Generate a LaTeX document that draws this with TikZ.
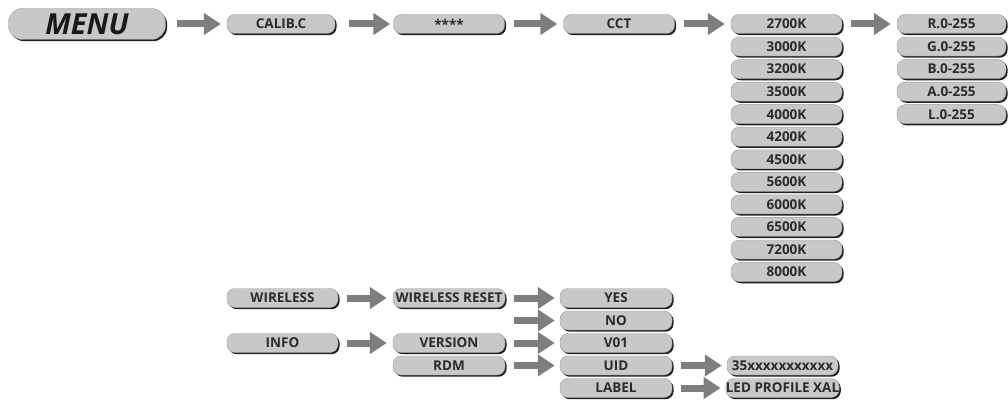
\documentclass[tikz,border=0pt]{standalone}
\usepackage{fontspec}
\setmainfont{Open Sans}
\usetikzlibrary{arrows.meta,shadows}
\definecolor{boxfill}{HTML}{C8C8C8}
\definecolor{boxedge}{HTML}{9A9A9A}
\definecolor{boxtext}{HTML}{2B2B2B}
\definecolor{arrowgray}{HTML}{7E7E7E}
\begin{document}
\begin{tikzpicture}[x=1pt,y=1pt,
  box/.style={rounded corners=8pt, fill=boxfill, draw=boxedge, line width=0.4pt,
    minimum height=19pt, minimum width=111pt, inner xsep=0pt, inner ysep=0pt,
    font=\fontsize{13.5}{13.5}\selectfont\bfseries, text=boxtext,
    general shadow={shadow xshift=1.6pt, shadow yshift=-1.7pt, fill=black!88}},
  bigbox/.style={box, rounded corners=14pt, minimum height=31pt, minimum width=157pt,
    font=\fontsize{29}{29}\selectfont\bfseries\itshape, text=black!90},
  conn/.style={draw=arrowgray, line width=7pt, -{Triangle[length=17pt,width=21pt]},
    shorten <=9pt, shorten >=6pt}]
\useasboundingbox (0,0) rectangle (1008,-403);
% top row
\node[bigbox] (menu) at (87,-24) {MENU};
\node[box, minimum width=108pt] (calib) at (281,-24) {CALIB.C};
\node[box] (pw) at (449,-24) {****};
\node[box] (cct) at (619,-24) {CCT};
% CCT column
\foreach \t [count=\i from 0] in {2700K,3000K,3200K,3500K,4000K,4200K,4500K,5600K,6000K,6500K,7200K,8000K}
  \node[box] (k\i) at (786.5,-24-22.55*\i) {\t};
% RGBAL column
\foreach \t [count=\i from 0] in {R.0-255,G.0-255,B.0-255,A.0-255,L.0-255}
  \node[box, minimum width=109pt] (c\i) at (951.5,-24-22.55*\i) {\t};
% bottom part
\node[box] (wireless) at (282.5,-298) {WIRELESS};
\node[box, minimum width=112pt] (wreset) at (449,-298) {WIRELESS RESET};
\node[box] (info) at (282.5,-343) {INFO};
\node[box, minimum width=112pt] (version) at (449,-343) {VERSION};
\node[box, minimum width=112pt] (rdm) at (449,-365.5) {RDM};
\node[box, minimum width=112pt] (yes) at (616,-298) {YES};
\node[box, minimum width=112pt] (no) at (616,-320.5) {NO};
\node[box, minimum width=112pt] (v01) at (616,-343) {V01};
\node[box, minimum width=112pt] (uid) at (616,-365.5) {UID};
\node[box, minimum width=112pt] (label) at (616,-388) {LABEL};
\node[box] (uidval) at (782.5,-365.5) {35xxxxxxxxxxx};
\node[box] (labelval) at (782.5,-388) {LED PROFILE XAL};
\coordinate (nostart) at (505,-320.5);
% connectors
\draw[conn, shorten <=11pt] (menu) -- (calib);
\draw[conn, shorten <=14pt, shorten >=3pt] (calib) -- (pw);
\draw[conn] (pw) -- (cct);
\draw[conn] (cct) -- (k0);
\draw[conn] (k0) -- (c0);
\draw[conn] (wireless) -- (wreset);
\draw[conn, shorten >=5pt] (wreset) -- (yes);
\draw[conn, shorten >=5pt] (nostart) -- (no);
\draw[conn] (info) -- (version);
\draw[conn, shorten >=5pt] (version) -- (v01);
\draw[conn, shorten >=5pt] (rdm) -- (uid);
\draw[conn, shorten >=5pt] (uid) -- (uidval);
\draw[conn, shorten >=5pt] (label) -- (labelval);
\end{tikzpicture}
\end{document}
